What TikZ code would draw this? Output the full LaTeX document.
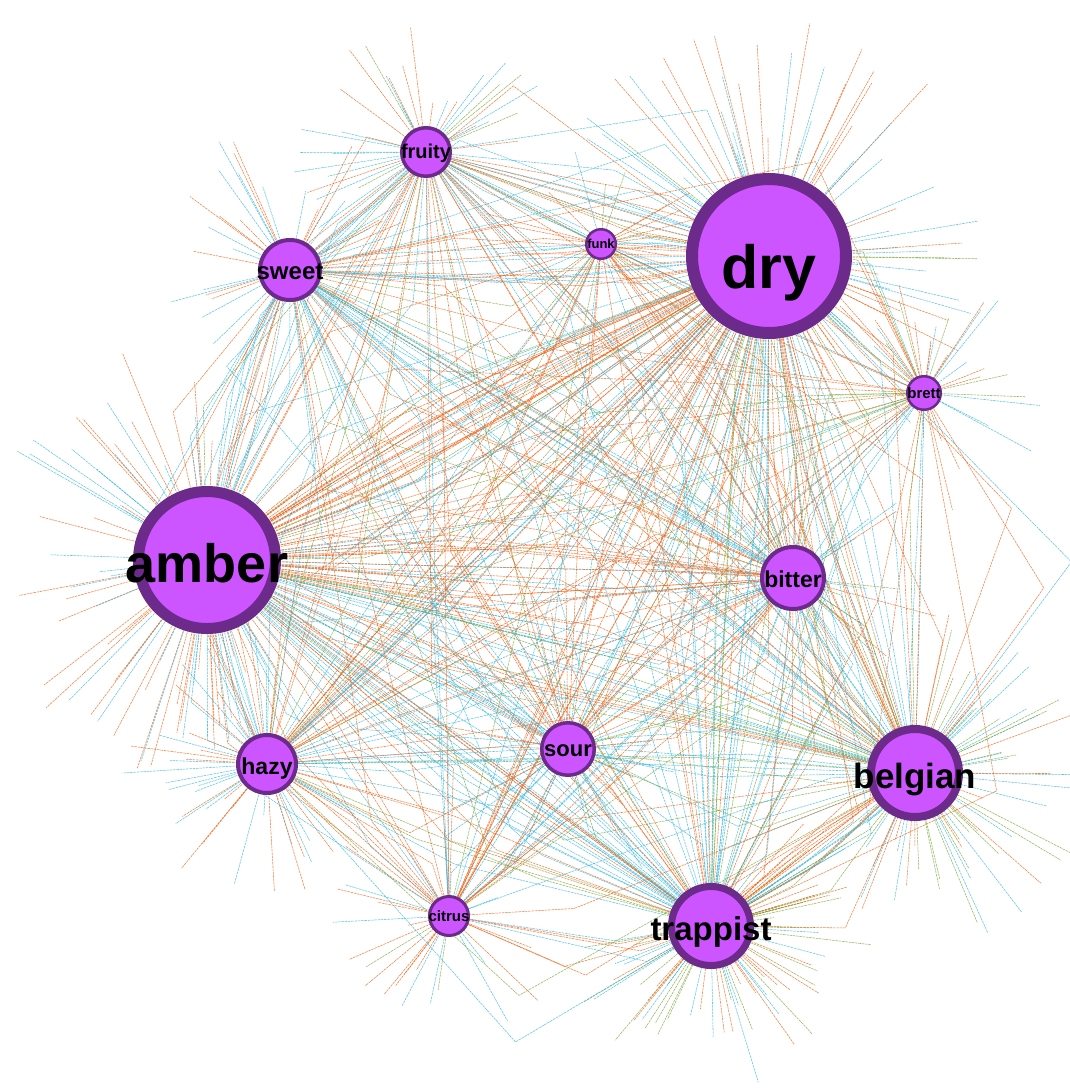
\documentclass[tikz,border=0pt]{standalone}
\usepackage{fontspec}
\setmainfont{Liberation Sans}
\usetikzlibrary{calc}
\pgfdeclarelayer{back}
\pgfdeclarelayer{bg}
\pgfsetlayers{back,bg,main}
\definecolor{eo}{RGB}{236,100,25}
\definecolor{eb}{RGB}{55,182,222}
\definecolor{eg}{RGB}{120,168,55}
\definecolor{kfill}{RGB}{205,85,255}
\definecolor{kline}{RGB}{108,42,138}
\tikzset{
  kw/.style={circle, fill=kfill, draw=kline, inner sep=0pt, outer sep=0pt},
  lab/.style={anchor=base, inner sep=0pt, text=black},
  edge/.style={line width=0.55pt, dash pattern=on 2.5pt off 0.8pt, opacity=0.8},
}
% per-keyword data, looked up by index 0..11
\newcommand\kvX[1]{\ifcase#1\space 207\or 769\or 711\or 915\or 793\or 290\or 267\or 568\or 426\or 449\or 924\or 601\fi}
\newcommand\kvY[1]{\ifcase#1\space 560\or 256\or 926\or 773\or 578\or 270\or 764\or 749\or 152\or 916\or 393\or 244\fi}
\newcommand\kvR[1]{\ifcase#1\space 74\or 83\or 43\or 48\or 33\or 32\or 31\or 28\or 26\or 21\or 18\or 16\fi}
\newcommand\kvN[1]{\ifcase#1\space 62\or 66\or 62\or 56\or 30\or 30\or 36\or 24\or 30\or 22\or 28\or 16\fi}
\newcommand\kvS[1]{\ifcase#1\space 220\or 240\or 230\or 220\or 360\or 230\or 230\or 360\or 240\or 300\or 230\or 360\fi}
\newcommand\kvO[1]{\ifcase#1\space 0.52\or 0.5\or 0.3\or 0.35\or 0.45\or 0.5\or 0.45\or 0.48\or 0.45\or 0.55\or 0.4\or 0.55\fi}
\newcommand\kvG[1]{\ifcase#1\space 0.03\or 0.13\or 0.33\or 0.32\or 0.08\or 0.03\or 0.03\or 0.05\or 0.08\or 0.05\or 0.33\or 0.1\fi}
\newcommand\kvW[1]{\ifcase#1\space 1\or 1\or 0.75\or 0.72\or 0.55\or 0.5\or 0.5\or 0.45\or 0.45\or 0.38\or 0.32\or 0.25\fi}
\begin{document}
\begin{tikzpicture}[x=1pt,y=-1pt]
\pgfmathsetseed{7}
\useasboundingbox (0,0) rectangle (1070,1088);
\begin{pgfonlayer}{back}
  \fill[white] (-10,-10) rectangle (1080,1098);
\end{pgfonlayer}
% keyword nodes
\foreach \i/\nm/\x/\y/\r/\bw/\fs/\bl in {
  0/amber/207/560/74/11/54/582,
  1/dry/769/256/83/12/61/288,
  2/trappist/711/926/43/7/33/940,
  3/belgian/915/773/48/8/35/788,
  4/bitter/793/578/33/4/23/587,
  5/sweet/290/270/32/4/24/279,
  6/hazy/267/764/31/4/23/774,
  7/sour/568/749/28/3.5/22/756,
  8/fruity/426/152/26/3.5/20/158,
  9/citrus/449/916/21/3/15/921,
  10/brett/924/393/18/2.5/15/398,
  11/funk/601/244/16/2.5/13/248}{%
  \node[kw, minimum size={2*\r-\bw}, line width=\bw] (n\i) at (\x,\y) {};%
  \node[lab, font=\bfseries\fontsize{\fs}{\fs}\selectfont] (t\i) at (\x,\bl) {\nm};%
}
\begin{pgfonlayer}{bg}
% spokes to single-keyword items
\foreach \i in {0,...,11}{%
  \edef\kx{\kvX{\i}}%
  \edef\ky{\kvY{\i}}%
  \edef\kr{\kvR{\i}}%
  \edef\kn{\kvN{\i}}%
  \edef\ks{\kvS{\i}}%
  \edef\ko{\kvO{\i}}%
  \edef\kg{\kvG{\i}}%
  \pgfmathsetmacro\kd{atan2(\ky-560,\kx-545)}%
  \foreach \k in {1,...,\kn}{%
    \pgfmathsetmacro\kang{\kd+(rnd-0.5)*\ks}%
    \pgfmathsetmacro\klen{\kr+20+rnd*(70+0.8*\kr)}%
    \pgfmathsetmacro\krc{rnd}%
    \pgfmathtruncatemacro\kci{\krc<\ko ? 0 : (\krc<\ko+\kg ? 1 : 2)}%
    \edef\kec{\ifcase\kci\space eo\or eg\else eb\fi}%
    \coordinate (s\i-\k) at ({\kx+\klen*cos(\kang)},{\ky+\klen*sin(\kang)});%
    \draw[edge,\kec] (n\i) -- (s\i-\k);%
  }%
}%
% items shared by two keywords
\foreach \i in {0,...,10}{%
  \foreach \j in {1,...,11}{%
    \ifnum\j>\i\relax
      \edef\qwa{\kvW{\i}}%
      \edef\qwb{\kvW{\j}}%
      \pgfmathtruncatemacro\qn{round(\qwa*\qwb*19)}%
      \ifnum\qn>0\relax
        \edef\qxa{\kvX{\i}}%
        \edef\qya{\kvY{\i}}%
        \edef\qxb{\kvX{\j}}%
        \edef\qyb{\kvY{\j}}%
        \edef\qoa{\kvO{\i}}\edef\qob{\kvO{\j}}%
        \edef\qga{\kvG{\i}}\edef\qgb{\kvG{\j}}%
        \pgfmathsetmacro\qo{(\qoa+\qob)/2}%
        \pgfmathsetmacro\qg{(\qga+\qgb)/2}%
        \pgfmathsetmacro\qdx{\qxb-\qxa}%
        \pgfmathsetmacro\qdy{\qyb-\qya}%
        \pgfmathsetmacro\qdl{veclen(\qdx/100,\qdy/100)*100}%
        \pgfmathsetmacro\qux{\qdx/\qdl}%
        \pgfmathsetmacro\quy{\qdy/\qdl}%
        \foreach \k in {1,...,\qn}{%
          \pgfmathsetmacro\qt{0.15+0.7*rnd}%
          \pgfmathsetmacro\qoff{(rnd-0.5)*(0.1+rnd)*0.8*\qdl}%
          \pgfmathsetmacro\qmx{\qxa+\qt*\qdx-\qoff*\quy}%
          \pgfmathsetmacro\qmy{\qya+\qt*\qdy+\qoff*\qux}%
          \pgfmathsetmacro\qrc{rnd}%
          \pgfmathtruncatemacro\qci{\qrc<\qo ? 0 : (\qrc<\qo+\qg ? 1 : 2)}%
          \edef\qec{\ifcase\qci\space eo\or eg\else eb\fi}%
          \coordinate (p\i-\j-\k) at (\qmx,\qmy);%
          \draw[edge,\qec] (n\i) -- (p\i-\j-\k) -- (n\j);%
        }%
      \fi
    \fi
  }%
}%
% strong, nearly straight links
\foreach \i/\j/\qn/\qo in {0/1/16/0.8, 0/4/7/0.65, 1/6/6/0.7, 1/5/6/0.65, 1/2/6/0.5,
    0/3/6/0.65, 1/9/4/0.75, 0/2/5/0.6, 1/3/5/0.55, 2/3/5/0.4, 5/4/4/0.6, 8/1/4/0.6}{%
  \edef\qxa{\kvX{\i}}%
  \edef\qya{\kvY{\i}}%
  \edef\qxb{\kvX{\j}}%
  \edef\qyb{\kvY{\j}}%
  \pgfmathsetmacro\qdx{\qxb-\qxa}%
  \pgfmathsetmacro\qdy{\qyb-\qya}%
  \pgfmathsetmacro\qdl{veclen(\qdx/100,\qdy/100)*100}%
  \pgfmathsetmacro\qux{\qdx/\qdl}%
  \pgfmathsetmacro\quy{\qdy/\qdl}%
  \foreach \k in {1,...,\qn}{%
    \pgfmathsetmacro\qt{0.2+0.6*rnd}%
    \pgfmathsetmacro\qoff{(rnd-0.5)*0.12*\qdl}%
    \pgfmathsetmacro\qmx{\qxa+\qt*\qdx-\qoff*\quy}%
    \pgfmathsetmacro\qmy{\qya+\qt*\qdy+\qoff*\qux}%
    \pgfmathsetmacro\qrc{rnd}%
    \pgfmathtruncatemacro\qci{\qrc<\qo ? 0 : (\qrc<\qo+0.06 ? 1 : 2)}%
    \edef\qec{\ifcase\qci\space eo\or eg\else eb\fi}%
    \coordinate (r\i-\j-\k) at (\qmx,\qmy);%
    \draw[edge,\qec] (n\i) -- (r\i-\j-\k) -- (n\j);%
  }%
}%
\end{pgfonlayer}
\end{tikzpicture}
\end{document}
